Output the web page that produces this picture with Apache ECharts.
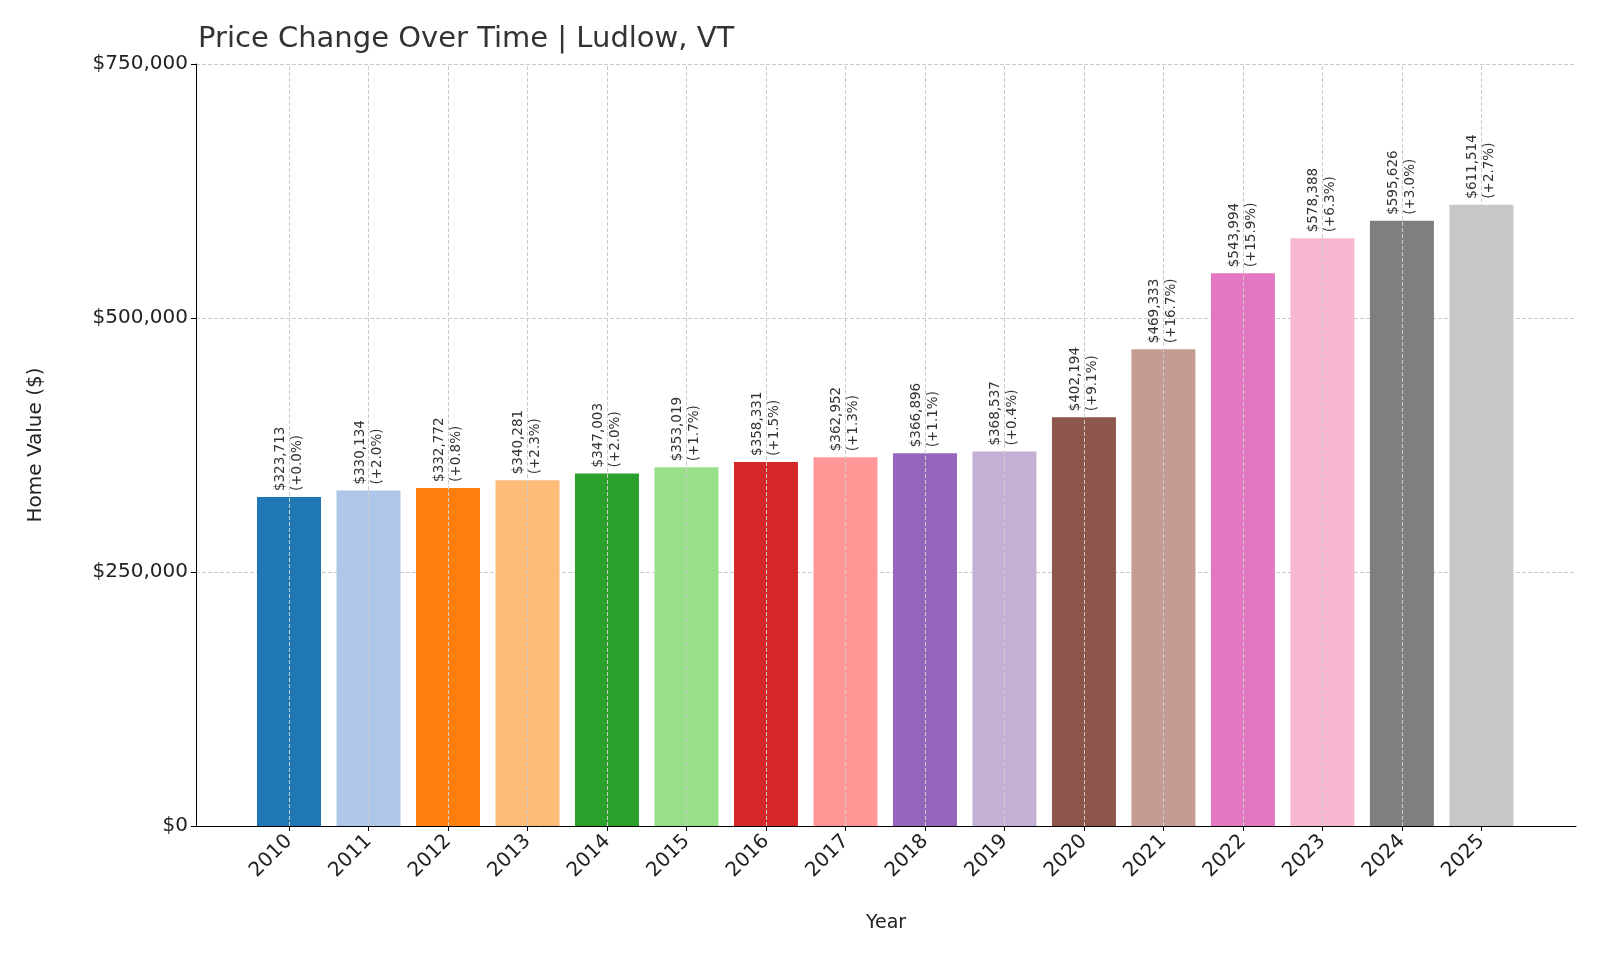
<!DOCTYPE html>
<html>
<head>
<meta charset="UTF-8">
<title>Ludlow, VT</title>
<script src="https://cdn.jsdelivr.net/npm/echarts@6/dist/echarts.min.js"></script>
<style>body{margin:0;background:#fff}</style>
</head>
<body>
<div id="chart" style="width:1600px;height:960px;"></div>
<script>
// data
var years = [2010,2011,2012,2013,2014,2015,2016,2017,2018,2019,2020,2021,2022,2023,2024,2025];
var values = [323713,330134,332772,340281,347003,353019,358331,362952,366896,368537,402194,469333,543994,578388,595626,611514];
var changes = ['+0.0%','+2.0%','+0.8%','+2.3%','+2.0%','+1.7%','+1.5%','+1.3%','+1.1%','+0.4%','+9.1%','+16.7%','+15.9%','+6.3%','+3.0%','+2.7%'];
var yTicks = [0,250000,500000,750000];
var colors = ['#1f77b4','#aec7e8','#ff7f0e','#ffbb78','#2ca02c','#98df8a','#d62728','#ff9896','#9467bd','#c5b0d5','#8c564b','#c49c94','#e377c2','#f7b6d2','#7f7f7f','#c7c7c7'];

var chart = echarts.init(document.getElementById('chart'));
var font = 'DejaVu Sans';

chart.setOption({
    animation: false,
    textStyle: {fontFamily: font},
    title: {
        text: 'Price Change Over Time | Ludlow, VT',
        left: 193, top: 20,
        textStyle: {fontFamily: font, fontSize: 29, fontWeight: 'normal', color: '#333'}
    },
    grid: {left: 196, right: 24, top: 64, bottom: 134},
    xAxis: {
        type: 'value', min: 2008.83, max: 2026.19, interval: 1,
        name: 'Year', nameLocation: 'middle', nameGap: 88,
        nameTextStyle: {fontSize: 19, color: '#222'},
        axisLine: {lineStyle: {color: '#000'}},
        axisTick: {show: true, customValues: years, lineStyle: {color: '#000'}},
        axisLabel: {
            rotate: 45, fontSize: 20, color: '#222', margin: 12,
            customValues: years,
            formatter: function (v) { return String(Math.round(v)); }
        },
        splitLine: {show: false}
    },
    yAxis: {
        type: 'value', min: 0, max: 750000, interval: 250000,
        name: 'Home Value ($)', nameLocation: 'middle', nameGap: 150,
        nameTextStyle: {fontSize: 20, color: '#222'},
        axisLine: {show: true, lineStyle: {color: '#000'}},
        axisTick: {show: true, lineStyle: {color: '#000'}},
        axisLabel: {
            fontSize: 20, color: '#222',
            formatter: function (v) { return '$' + v.toLocaleString('en-US'); }
        },
        splitLine: {lineStyle: {type: 'dashed', color: '#ccc'}}
    },
    series: [{
        type: 'bar',
        barWidth: 64,
        data: years.map(function (y, i) {
            return {value: [y, values[i]], itemStyle: {color: colors[i]}};
        }),
        label: {
            show: true, position: 'top', rotate: 90, distance: 6,
            align: 'left', verticalAlign: 'middle',
            fontSize: 13.5, color: '#333', lineHeight: 17,
            formatter: function (p) {
                return '$' + values[p.dataIndex].toLocaleString('en-US') + '\n(' + changes[p.dataIndex] + ')';
            }
        },
        z: 2
    }, {
        // vertical dashed grid lines at each year
        type: 'line', data: [], silent: true,
        markLine: {
            symbol: 'none', silent: true, label: {show: false},
            lineStyle: {type: 'dashed', color: '#ccc', width: 1},
            data: years.map(function (y) { return {xAxis: y}; })
        },
        z: 3
    }]
});
</script>
</body>
</html>
